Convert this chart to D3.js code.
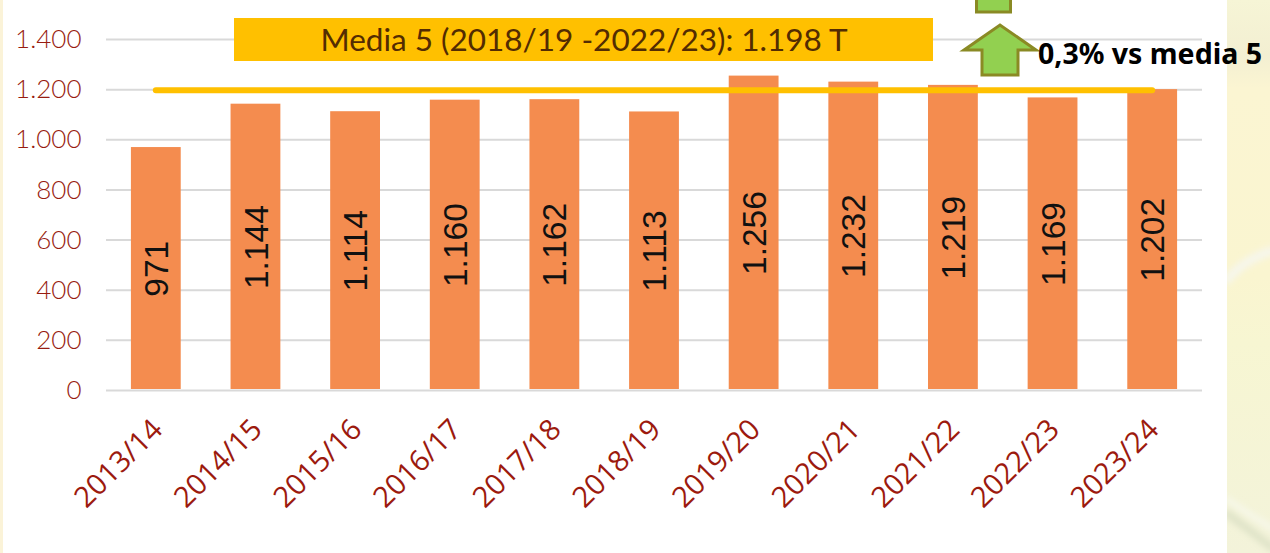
<!DOCTYPE html>
<html><head><meta charset="utf-8">
<script src="https://cdn.jsdelivr.net/npm/d3@7"></script>
<style>html,body{margin:0;padding:0;background:#fff;overflow:hidden}svg{display:block}</style>
</head><body><svg id="c" width="1270" height="553"></svg>
<script>
const categories=["2013/14","2014/15","2015/16","2016/17","2017/18","2018/19","2019/20","2020/21","2021/22","2022/23","2023/24"];
const values=[971,1144,1114,1160,1162,1113,1256,1232,1219,1169,1202];
const labels=["971","1.144","1.114","1.160","1.162","1.113","1.256","1.232","1.219","1.169","1.202"];
const yTicks=[0,200,400,600,800,1000,1200,1400];
const yTickLabels=["0","200","400","600","800","1.000","1.200","1.400"];
const average=1198;
const averageLabel="Media 5 (2018/19 -2022/23): 1.198 T";
const noteLabel="0,3% vs media 5";

const svg=d3.select("#c");
const defs=svg.append("defs");
const g1=defs.append("linearGradient").attr("id","bgR").attr("x1",0).attr("x2",0).attr("y1",0).attr("y2",1);
g1.append("stop").attr("offset","0").attr("stop-color","#f6f5d6");
g1.append("stop").attr("offset","0.1").attr("stop-color","#f3efd2");
g1.append("stop").attr("offset","0.16").attr("stop-color","#fbf5d2");
g1.append("stop").attr("offset","0.5").attr("stop-color","#faf5d0");
g1.append("stop").attr("offset","0.62").attr("stop-color","#f7f6d2");
g1.append("stop").attr("offset","1").attr("stop-color","#f3f3da");
defs.append("filter").attr("id","soft").append("feGaussianBlur").attr("stdDeviation",3);
svg.append("rect").attr("x",0).attr("y",0).attr("width",3).attr("height",553).attr("fill","#fbf3d8");
svg.append("rect").attr("x",1227).attr("y",0).attr("width",43).attr("height",553).attr("fill","url(#bgR)");
const clip=defs.append("clipPath").attr("id","panel");
clip.append("rect").attr("x",1227).attr("y",0).attr("width",43).attr("height",553);
const deco=svg.append("g").attr("clip-path","url(#panel)").append("g").attr("filter","url(#soft)").attr("fill","none");
deco.append("path").attr("d","M1225 282 Q1245 258 1275 250").attr("stroke","#f6f6ec").attr("stroke-width",9);
deco.append("path").attr("d","M1225 512 Q1250 530 1275 550").attr("stroke","#dfe3c8").attr("stroke-width",8);
deco.append("path").attr("d","M1225 498 Q1250 515 1275 530").attr("stroke","#f7f8ec").attr("stroke-width",5);

const x=d3.scaleBand().domain(categories).range([106,1202]).paddingInner(0.5).paddingOuter(0.25);
const y=d3.scaleLinear().domain([0,1400]).range([390.5,39.5]);

svg.append("g").selectAll("line").data(yTicks).join("line")
 .attr("x1",106).attr("x2",1202).attr("y1",d=>y(d)).attr("y2",d=>y(d))
 .attr("stroke","#d9d9d9").attr("stroke-width",2);

svg.append("g").selectAll("text").data(yTicks).join("text")
 .attr("x",81.5).attr("y",d=>y(d)-0.5).attr("dy","0.35em").attr("text-anchor","end")
 .attr("font-family","Lato, sans-serif").attr("font-weight",300).attr("font-size",26).attr("fill","#981c10")
 .text((d,i)=>yTickLabels[i]);

svg.append("g").selectAll("rect").data(values).join("rect")
 .attr("x",(d,i)=>x(categories[i])).attr("width",x.bandwidth())
 .attr("y",d=>y(d)).attr("height",d=>y(0)-y(d)-1.5).attr("fill","#f48c4f");

svg.append("g").selectAll("text").data(values).join("text")
 .attr("transform",(d,i)=>`translate(${x(categories[i])+x.bandwidth()/2},${(y(d)+y(0))/2}) rotate(-90)`)
 .attr("text-anchor","middle").attr("dy","0.36em")
 .attr("font-family","'Liberation Sans', Arial, sans-serif").attr("font-size",33.5).attr("fill","#111")
 .text((d,i)=>labels[i]);

svg.append("g").selectAll("text").data(categories).join("text")
 .attr("transform",d=>`translate(${x(d)+x.bandwidth()/2-6},${417}) rotate(-45)`)
 .attr("text-anchor","end").attr("dy","0.7em")
 .attr("font-family","'Open Sans', sans-serif").attr("font-size",29).attr("fill","#9c1a0e")
 .text(d=>d);

svg.append("line").attr("x1",x(categories[0])+x.bandwidth()/2).attr("x2",x(categories[10])+x.bandwidth()/2)
 .attr("y1",y(average)).attr("y2",y(average))
 .attr("stroke","#ffc000").attr("stroke-width",6).attr("stroke-linecap","round");

svg.append("rect").attr("x",234).attr("y",18).attr("width",699).attr("height",43).attr("fill","#ffc000");
svg.append("text").attr("x",584).attr("y",40).attr("dy","0.36em").attr("text-anchor","middle")
 .attr("font-family","Lato, sans-serif").attr("font-size",31.5).attr("fill","#532c02").text(averageLabel);

const arrow=d3.path();
arrow.moveTo(964,50);arrow.lineTo(1000,25);arrow.lineTo(1036,50);arrow.lineTo(1018,50);arrow.lineTo(1018,75);arrow.lineTo(982,75);arrow.lineTo(982,50);arrow.closePath();
svg.append("path").attr("d",arrow.toString()).attr("fill","#92d050").attr("stroke","#8a8a24").attr("stroke-width",3);
svg.append("rect").attr("x",976.5).attr("y",-6).attr("width",34).attr("height",18).attr("fill","#92d050").attr("stroke","#8a8a24").attr("stroke-width",3);

svg.append("text").attr("x",1038).attr("y",64)
 .attr("font-family","'Noto Sans', sans-serif").attr("font-weight",700).attr("font-size",28.5).attr("fill","#000").text(noteLabel);
</script></body></html>
